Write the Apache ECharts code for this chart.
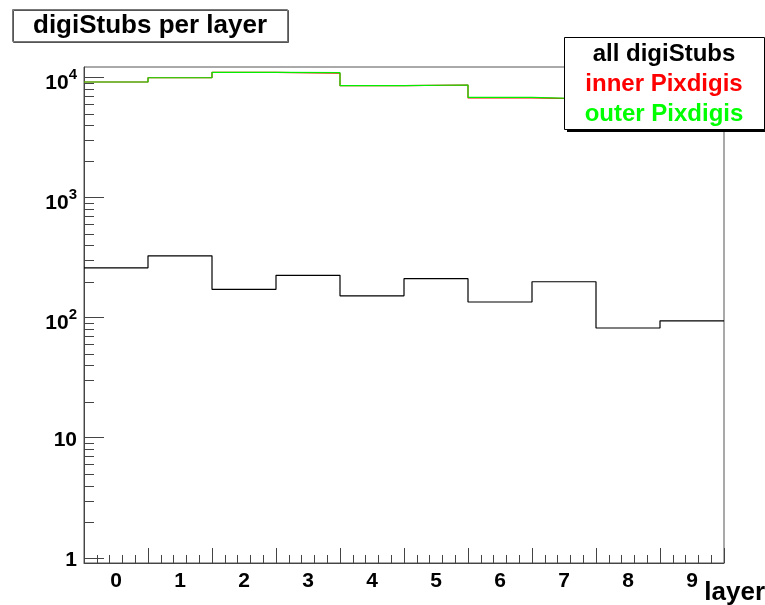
<!DOCTYPE html>
<html>
<head>
<meta charset="utf-8">
<script src="https://cdn.jsdelivr.net/npm/echarts@6/dist/echarts.min.js"></script>
<style>
  html, body { margin: 0; padding: 0; background: #ffffff; }
  #chart { width: 765px; height: 605px; }
</style>
</head>
<body>
<div id="chart"></div>
<script>
// Layer categories and per-layer counts
const layers = ['0', '1', '2', '3', '4', '5', '6', '7', '8', '9'];
const allDigiStubs = [260, 327, 172, 225, 152, 211, 135, 199, 82, 94];
const innerPixdigis = [9170, 9950, 11050, 10850, 8550, 8660, 6760, 6620, 6200, 5900];
const outerPixdigis = [9170, 9950, 11050, 10960, 8550, 8660, 6840, 6620, 6200, 5900];

const seriesNames = ['all digiStubs', 'inner Pixdigis', 'outer Pixdigis'];
const seriesColors = ['#000000', '#ff0000', '#00ee00'];
const legendColors = ['#000000', '#ff0000', '#00ff00'];

// Log axis: decade ticks with their labels, and the 2..9 sub-ticks
const yMajorTicks = [1, 10, 100, 1000, 10000];
const yTickLabels = ['{p|1}', '{p|10}', '{b|10}{s|2}', '{b|10}{s|3}', '{b|10}{s|4}'];
const yMinorTicks = [2, 3, 4, 5, 6, 7, 8, 9,
                     20, 30, 40, 50, 60, 70, 80, 90,
                     200, 300, 400, 500, 600, 700, 800, 900,
                     2000, 3000, 4000, 5000, 6000, 7000, 8000, 9000];

const FONT = '"Liberation Sans", Arial, Helvetica, sans-serif';
const FRAME = '#444444';

// Histogram outline: one point per bin's lower edge plus the final upper edge
function toSteps(values) {
  const pts = values.map((v, i) => [i - 0.5, v]);
  pts.push([values.length - 0.5, values[values.length - 1]]);
  return pts;
}

function histSeries(name, values, color) {
  return {
    name: name,
    type: 'line',
    xAxisIndex: 2,
    yAxisIndex: 0,
    step: 'end',
    symbol: 'none',
    data: toSteps(values),
    lineStyle: { color: color, width: 1.2 },
    silent: true,
    z: 4
  };
}

const legendFont = 'bold 24px ' + FONT;

const chart = echarts.init(document.getElementById('chart'));

chart.setOption({
  animation: false,
  backgroundColor: '#ffffff',
  textStyle: { fontFamily: FONT },
  title: {
    text: 'digiStubs per layer',
    left: 12,
    top: 9,
    padding: [1, 21, 1, 21],
    borderColor: '#777777',
    borderWidth: 1,
    backgroundColor: '#ffffff',
    shadowColor: '#555555',
    shadowOffsetX: 1,
    shadowOffsetY: 1,
    textStyle: {
      fontFamily: FONT,
      fontSize: 26,
      fontWeight: 'bold',
      color: '#000000',
      lineHeight: 31
    }
  },
  grid: {
    left: 84,
    right: 41,
    top: 67,
    bottom: 42,
    outerBoundsMode: 'none',
    containLabel: false,
    show: true,
    borderColor: '#555555',
    borderWidth: 1,
    backgroundColor: 'transparent'
  },
  xAxis: [
    {
      // bin labels at the centres, major ticks at the bin edges
      type: 'category',
      data: layers,
      position: 'bottom',
      boundaryGap: true,
      axisLine: { show: true, lineStyle: { color: FRAME, width: 1 } },
      axisTick: { show: true, inside: true, length: 15, interval: 0, lineStyle: { color: FRAME } },
      axisLabel: {
        margin: 8,
        interval: 0,
        fontFamily: FONT,
        fontSize: 21,
        fontWeight: 'bold',
        color: '#000000'
      },
      splitLine: { show: false },
      name: 'layer',
      nameLocation: 'end',
      nameGap: 41,
      nameTextStyle: {
        fontFamily: FONT,
        fontSize: 26,
        fontWeight: 'bold',
        color: '#000000',
        align: 'right',
        verticalAlign: 'top',
        padding: [17, 0, 0, 0]
      }
    },
    {
      // fifth-of-a-bin minor ticks
      type: 'value',
      position: 'bottom',
      min: 0,
      max: 50,
      interval: 1,
      axisLine: { show: false },
      axisTick: { show: true, inside: true, length: 8, lineStyle: { color: FRAME } },
      axisLabel: { show: false },
      splitLine: { show: false }
    },
    {
      // continuous layer coordinate used by the histogram outlines
      type: 'value',
      min: -0.5,
      max: 9.5,
      show: false
    }
  ],
  yAxis: [
    {
      type: 'log',
      logBase: 10,
      min: 0.905,
      max: 12230,
      axisLine: { show: true, lineStyle: { color: FRAME, width: 1 } },
      axisTick: { show: true, inside: true, length: 20, lineStyle: { color: FRAME } },
      minorTick: { show: false },
      splitLine: { show: false },
      axisLabel: {
        margin: 7,
        showMinLabel: false,
        showMaxLabel: false,
        color: '#000000',
        fontFamily: FONT,
        formatter: function (v) {
          for (let i = 0; i < yMajorTicks.length; i++) {
            if (Math.abs(v - yMajorTicks[i]) / yMajorTicks[i] < 1e-6) return yTickLabels[i];
          }
          return '';
        },
        rich: {
          p: { fontFamily: FONT, fontSize: 21, fontWeight: 'bold', color: '#000', lineHeight: 21, padding: [4, 0, 0, 0] },
          b: { fontFamily: FONT, fontSize: 21, fontWeight: 'bold', color: '#000', lineHeight: 21, padding: [6, 0, 0, 0], verticalAlign: 'top' },
          s: { fontFamily: FONT, fontSize: 15, fontWeight: 'bold', color: '#000', lineHeight: 15, padding: [0, 0, 0, 0], verticalAlign: 'top' }
        }
      }
    }
  ],
  series: [
    {
      // log-axis sub-ticks (2..9 in each decade), drawn inside the frame
      name: 'yMinorTicks',
      type: 'custom',
      xAxisIndex: 2,
      yAxisIndex: 0,
      silent: true,
      z: 3,
      data: yMinorTicks.map(v => [0, v]),
      renderItem: function (params, api) {
        const cs = params.coordSys;
        const y = Math.round(api.coord([api.value(0), api.value(1)])[1]) + 0.5;
        return {
          type: 'line',
          shape: { x1: cs.x, y1: y, x2: cs.x + 10, y2: y },
          style: { stroke: FRAME, lineWidth: 1 }
        };
      }
    },
    histSeries(seriesNames[0], allDigiStubs, seriesColors[0]),
    histSeries(seriesNames[1], innerPixdigis, seriesColors[1]),
    histSeries(seriesNames[2], outerPixdigis, seriesColors[2])
  ],
  graphic: [
    { type: 'rect', z: 100, shape: { x: 567, y: 40, width: 200, height: 92 }, style: { fill: '#000000' } },
    { type: 'rect', z: 101, shape: { x: 564.5, y: 37.5, width: 200, height: 92 }, style: { fill: '#ffffff', stroke: '#000000', lineWidth: 1 } },
    { type: 'text', z: 102, x: 664, y: 54, style: { text: seriesNames[0], fill: legendColors[0], font: legendFont, align: 'center', verticalAlign: 'middle' } },
    { type: 'text', z: 102, x: 664, y: 84, style: { text: seriesNames[1], fill: legendColors[1], font: legendFont, align: 'center', verticalAlign: 'middle' } },
    { type: 'text', z: 102, x: 664, y: 114, style: { text: seriesNames[2], fill: legendColors[2], font: legendFont, align: 'center', verticalAlign: 'middle' } }
  ]
});
</script>
</body>
</html>
